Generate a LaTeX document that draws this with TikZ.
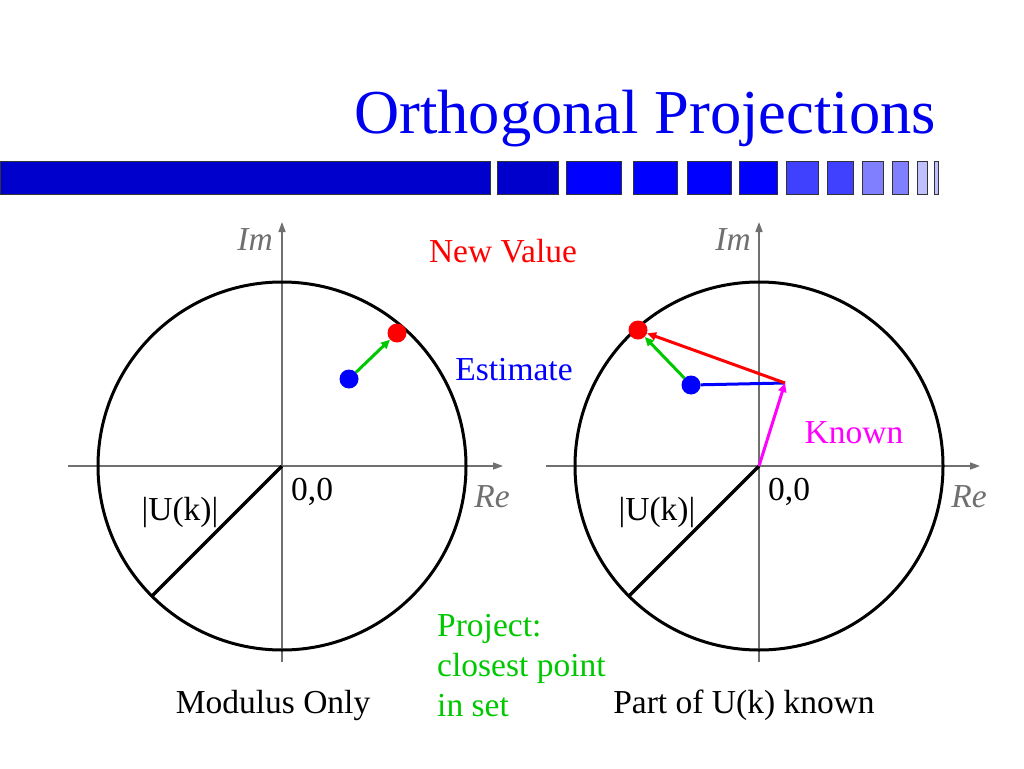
\documentclass[tikz,border=0pt]{standalone}
\usepackage{fontspec}
\setmainfont{Liberation Serif}
\usetikzlibrary{arrows.meta}
\definecolor{ttl}{RGB}{0,0,240}
\definecolor{barA}{RGB}{0,0,204}
\definecolor{barB}{RGB}{0,0,255}
\definecolor{barC}{RGB}{64,64,255}
\definecolor{barD}{RGB}{128,128,255}
\definecolor{barE}{RGB}{192,192,255}
\definecolor{axgray}{RGB}{112,112,112}
\definecolor{pgreen}{RGB}{0,200,0}
\definecolor{mag}{RGB}{255,0,255}
\tikzset{
  body/.style={font=\fontsize{33.5}{40}\selectfont, inner sep=0pt},
  axlab/.style={body, text=axgray, font=\fontsize{33.5}{40}\selectfont\itshape},
  axis/.style={draw=axgray, line width=1.5pt, -{Triangle[length=10pt,width=7pt]}},
  ring/.style={draw=black, line width=3pt},
  rad/.style={draw=black, line width=3.5pt},
  dot/.style={circle, minimum size=19pt, inner sep=0pt, draw=none},
  vec/.style={line width=3pt, -{Triangle[length=9pt,width=8pt]}},
  barbox/.style={draw=black!80, line width=1pt},
}
\begin{document}
\begin{tikzpicture}[x=1pt,y=-1pt]
\useasboundingbox (0,0) rectangle (1024,768);
% title
\node[anchor=base east, inner sep=0pt, text=ttl, font=\fontsize{62.5}{70}\selectfont] (title) at (936,133) {Orthogonal Projections};
% bar
\foreach \a/\b/\c in {0/490/barA, 497/558/barA, 566/621/barB, 633/677/barB, 687/731/barB, 739/777/barB, 786/818/barC, 827/853/barC, 862/883/barD, 892/908/barD, 917/927/barE, 934/938/barE}
  \draw[barbox, fill=\c] (\a,161) rectangle (\b,194);

% ===== left diagram =====
\coordinate (o1) at (282,466);
\coordinate (xl1) at (68,466);
\coordinate (xr1) at (503,466);
\coordinate (yb1) at (282,662);
\coordinate (yt1) at (282,222);
\draw[axis] (xl1) -- (xr1);
\draw[axis] (yb1) -- (yt1);
\draw[ring] (o1) circle[radius=184];
\coordinate (u1) at (152,596);
\draw[rad] (o1) -- (u1);
\node[dot, fill=red] (r1) at (397,333) {};
\node[dot, fill=blue] (b1) at (349,379) {};
\draw[vec, draw=pgreen, fill=pgreen] (b1) -- (r1);
\node[axlab, anchor=base east] (im1) at (273,250) {Im};
\node[axlab, anchor=base] (re1) at (492,507) {Re};
\node[body, anchor=base west] (z1) at (291,500) {0,0};
\node[body, anchor=base] (m1) at (180,520) {|U(k)|};
\node[body, anchor=base, text=red] (nv) at (503,262) {New Value};
\node[body, anchor=base, text=blue] (est) at (514,380) {Estimate};
\node[body, anchor=base] (mo) at (273,713) {Modulus Only};
\node[body, anchor=base west, text=pgreen, align=left] (pr) at (437,636) {Project:};
\node[body, anchor=base west, text=pgreen] (pr2) at (437,676) {closest point};
\node[body, anchor=base west, text=pgreen] (pr3) at (437,716) {in set};

% ===== right diagram =====
\coordinate (o2) at (759,466);
\coordinate (xl2) at (546,466);
\coordinate (xr2) at (980,466);
\coordinate (yb2) at (759,662);
\coordinate (yt2) at (759,222);
\draw[axis] (xl2) -- (xr2);
\draw[axis] (yb2) -- (yt2);
\draw[ring] (o2) circle[radius=184];
\coordinate (u2) at (629,596);
\draw[rad] (o2) -- (u2);
\coordinate (k) at (785,383);
\node[dot, fill=red] (r2) at (638,330) {};
\node[dot, fill=blue] (b2) at (691,385) {};
\draw[line width=3pt, draw=blue] (b2) -- (k);
\draw[vec, draw=red, fill=red] (k) -- (r2);
\draw[vec, draw=pgreen, fill=pgreen] (b2) -- (r2);
\draw[vec, draw=mag, fill=mag] (o2) -- (k);
\node[axlab, anchor=base east] (im2) at (751,250) {Im};
\node[axlab, anchor=base] (re2) at (969,507) {Re};
\node[body, anchor=base west] (z2) at (768,500) {0,0};
\node[body, anchor=base] (m2) at (657,520) {|U(k)|};
\node[body, anchor=base, text=mag] (kn) at (854,443) {Known};
\node[body, anchor=base] (pk) at (744,713) {Part of U(k) known};
\end{tikzpicture}
\end{document}
